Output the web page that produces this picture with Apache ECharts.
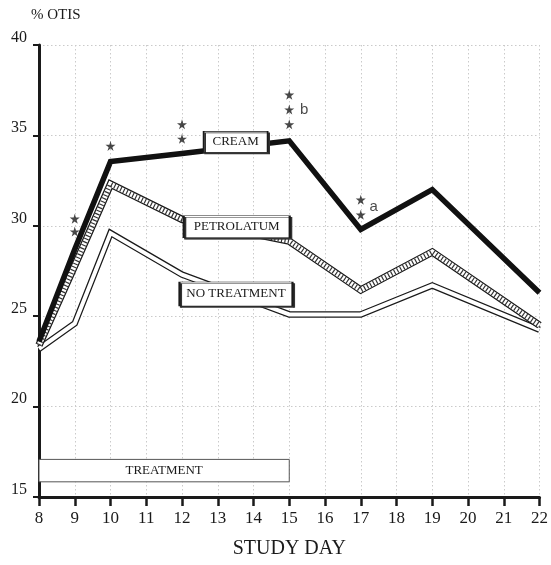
<!DOCTYPE html>
<html>
<head>
<meta charset="utf-8">
<script src="https://cdn.jsdelivr.net/npm/echarts@6/dist/echarts.min.js"></script>
<style>html,body{margin:0;padding:0;background:#fff}#c{width:551px;height:565px}</style>
</head>
<body>
<div id="c"></div>
<script>
// ---- data ----
var days = [8, 9, 10, 12, 15, 17, 19, 22];
var cream = [23.6, 28.7, 33.55, 34.0, 34.7, 29.8, 32.0, 26.3];
var petrolatum = [23.4, 27.8, 32.3, 30.35, 29.15, 26.45, 28.55, 24.5];
var noTreatment = [23.2, 24.6, 29.6, 27.3, 25.1, 25.1, 26.7, 24.25];
var xTicks = [8,9,10,11,12,13,14,15,16,17,18,19,20,21,22];
var yTicks = [15,20,25,30,35,40];
// significance stars [day, value]
var stars = [[9,30.39],[9,29.68],[10,34.42],[12,35.61],[12,34.81],[15,37.25],[15,36.43],[15,35.61],[17,31.44],[17,30.61]];
var letters = [{name:'b', value:[15.42,36.43]},{name:'a', value:[17.36,31.05]}];
var seriesLabels = [
  {name:'CREAM', coord:[13.5,34.64], w:64, h:21},
  {name:'PETROLATUM', coord:[13.53,29.95], w:106, h:22},
  {name:'NO TREATMENT', coord:[13.51,26.23], w:113, h:24}
];
var treatment = {name:'TREATMENT', from:[8,15.84], to:[15,17.08]};

function pairs(arr){ return days.map(function(d,i){ return [d, arr[i]]; }); }

var serif = 'Liberation Serif, Times New Roman, serif';
var ink = '#1a1a1a';
var starPath = 'path://M50,0 L61,35 L98,35 L68,57 L79,91 L50,70 L21,91 L32,57 L2,35 L39,35 Z';

var chart = echarts.init(document.getElementById('c'), null, {renderer:'canvas'});
chart.setOption({
  animation: false,
  backgroundColor: '#fff',
  grid: {left: 39, right: 7, top: 45, bottom: 68},
  xAxis: {
    type: 'value', min: 8, max: 22, interval: 1,
    name: 'STUDY DAY', nameLocation: 'middle', nameGap: 42,
    nameTextStyle: {fontFamily: serif, fontSize: 20, color: ink},
    axisLine: {show: true, lineStyle: {color: ink, width: 3}},
    axisTick: {show: true, length: 9, lineStyle: {color: ink, width: 2.5}},
    axisLabel: {fontFamily: serif, fontSize: 17, color: ink, margin: 13,
      formatter: function(v){ return xTicks.indexOf(v) >= 0 ? String(v) : ''; }},
    splitLine: {show: true, lineStyle: {color: '#cacaca', width: 1, type: [1.5, 2.5]}}
  },
  yAxis: {
    type: 'value', min: 15, max: 40, interval: 5,
    name: '% OTIS', nameLocation: 'end', nameGap: 22,
    nameTextStyle: {fontFamily: serif, fontSize: 15, color: ink, align: 'left', padding: [0,0,0,-8]},
    axisLine: {show: true, lineStyle: {color: ink, width: 3}},
    axisTick: {show: true, length: 6, lineStyle: {color: ink, width: 2}},
    axisLabel: {fontFamily: serif, fontSize: 16, color: ink, margin: 12, verticalAlign: 'bottom', lineHeight: 15,
      formatter: function(v){ return yTicks.indexOf(v) >= 0 ? String(v) : ''; }},
    splitLine: {show: true, lineStyle: {color: '#cacaca', width: 1, type: [1.5, 2.5]}}
  },
  series: [
    {type:'line', name:'noTreatmentOuter', data: pairs(noTreatment), symbol:'none', z:2,
     lineStyle:{color: ink, width: 6.5, join:'miter'}},
    {type:'line', name:'noTreatmentInner', data: pairs(noTreatment), symbol:'none', z:2,
     lineStyle:{color: '#fff', width: 4, join:'miter'}},
    {type:'line', name:'petrolatumOuter', data: pairs(petrolatum), symbol:'none', z:3,
     lineStyle:{color: ink, width: 7.5, join:'miter'}},
    {type:'line', name:'petrolatumInner', data: pairs(petrolatum), symbol:'none', z:3,
     lineStyle:{color: '#fff', width: 5, join:'miter'}},
    {type:'line', name:'petrolatumHatch', data: pairs(petrolatum), symbol:'none', z:3,
     lineStyle:{color: '#333', width: 5, type:[1.2, 2.2], cap:'butt', join:'miter'}},
    {type:'line', name:'cream', data: pairs(cream), symbol:'none', z:4,
     lineStyle:{color: '#111', width: 5.5, join:'miter'}},
    {type:'scatter', name:'stars', data: stars, symbol: starPath, symbolSize: 10, z:6,
     itemStyle:{color: ink},
     markArea: {silent:true, z:1,
       itemStyle:{color:'#fff', borderColor:'#555', borderWidth:1},
       label:{show:true, position:'inside', fontFamily: serif, fontSize: 13, color: ink},
       data: [[{name: treatment.name, coord: treatment.from}, {coord: treatment.to}]]},
     markPoint: {silent:true,
       data: seriesLabels.map(function(s){ return {name: s.name, coord: s.coord, symbol:'rect', symbolSize:[s.w, s.h],
         itemStyle:{color:'#fff', borderColor: ink, borderWidth: 1, shadowColor:'#333', shadowOffsetX:1.5, shadowOffsetY:1.5, shadowBlur:0},
         label:{show:true, position:'inside', formatter: s.name, fontFamily: serif, fontSize: 13, color: ink}}; })
     }},
    {type:'scatter', name:'letters', data: letters, symbolSize: 1, z:6,
     itemStyle:{color:'rgba(0,0,0,0)'},
     label:{show:true, position:'inside', formatter: function(p){ return p.name; }, fontFamily:'Liberation Sans, Arial, sans-serif', fontSize: 15, color: ink}}
  ]
});
</script>
</body>
</html>
